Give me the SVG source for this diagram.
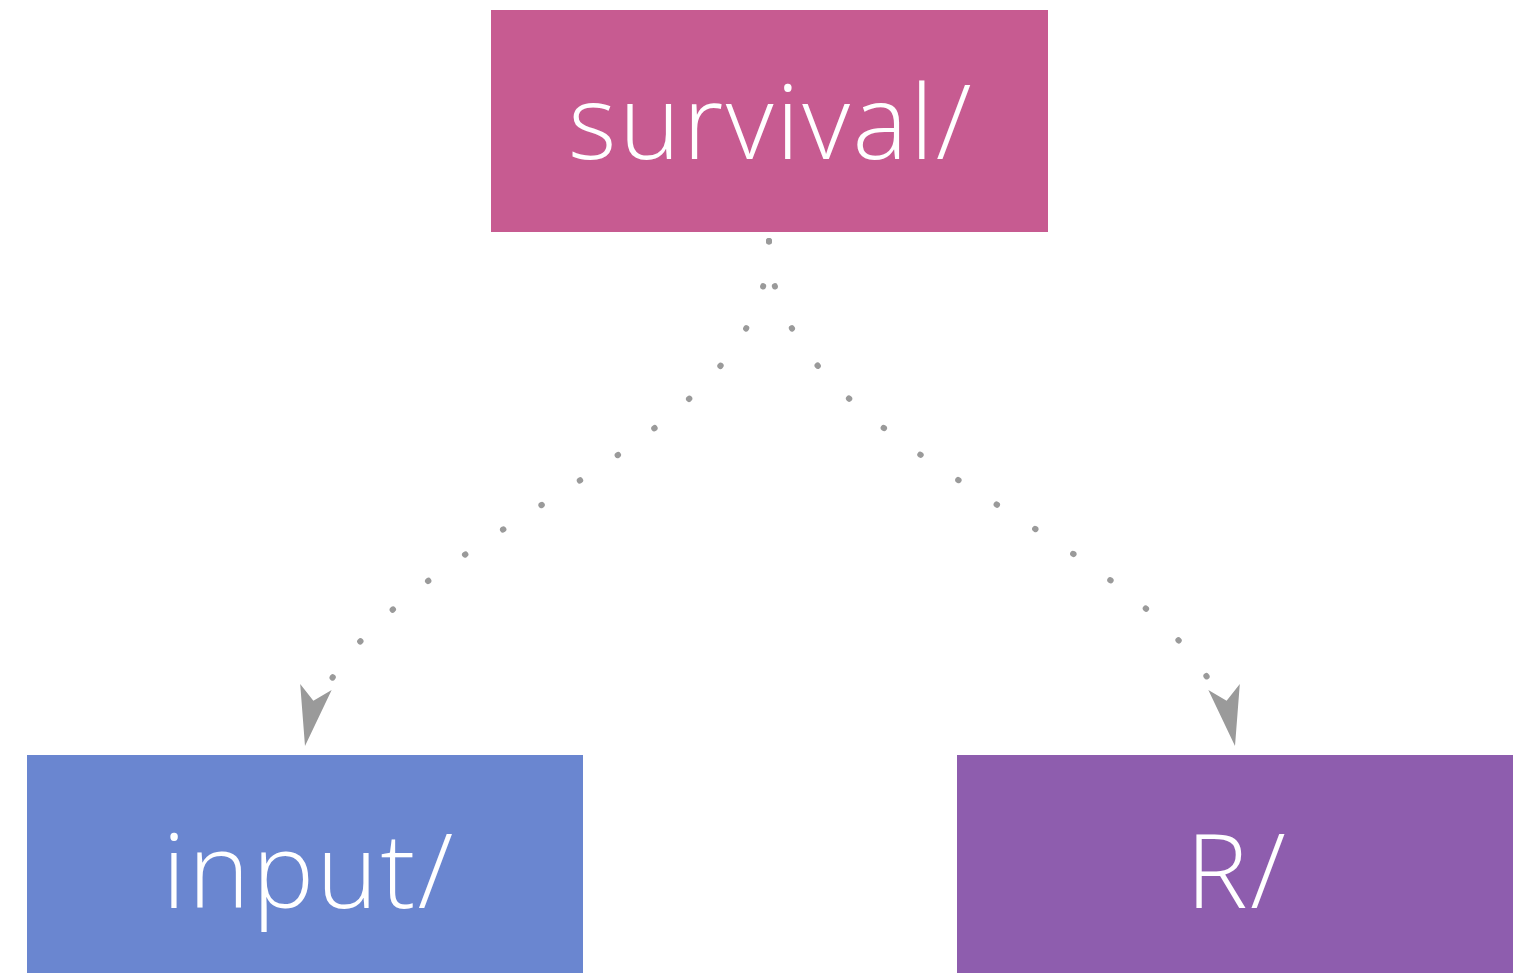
<svg xmlns="http://www.w3.org/2000/svg" width="1524" height="973" viewBox="0 0 1524 973">
  <style>
    .label { font-family: "Open Sans", "Noto Sans", "Liberation Sans", sans-serif; font-size: 104px; font-weight: 300; letter-spacing: 2.5px; fill: #ffffff; text-anchor: middle; }
    .link { fill: none; stroke: #9a9a9a; stroke-width: 6; stroke-linecap: round; stroke-dasharray: 0.5 45; }
  </style>
  <defs>
    <marker id="arrow" markerUnits="userSpaceOnUse" markerWidth="70" markerHeight="50" viewBox="-60 -25 70 50" refX="0" refY="0" orient="auto">
      <path d="M0,0 L-60,-16 L-46,0 L-60,16 Z" fill="#9a9a9a"/>
    </marker>
  </defs>

  <rect width="1524" height="973" fill="#ffffff"/>

  <g id="connectors">
    <path class="link" d="M769,241 C769,470 345,530 305,746" marker-end="url(#arrow)"/>
    <path class="link" d="M769,241 C769,470 1195,530 1235,746" marker-end="url(#arrow)"/>
  </g>

  <g id="node-survival">
    <rect x="491" y="10" width="557" height="222" fill="#c75b91"/>
    <text class="label" x="771" y="159">survival/</text>
  </g>

  <g id="node-input">
    <rect x="27" y="755" width="556" height="230" fill="#6a86d0"/>
    <text class="label" x="309" y="908">input/</text>
  </g>

  <g id="node-R">
    <rect x="957" y="755" width="556" height="230" fill="#8e5dae"/>
    <text class="label" x="1237" y="908">R/</text>
  </g>
</svg>
